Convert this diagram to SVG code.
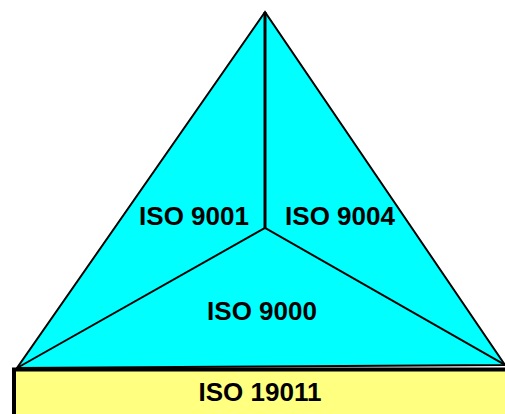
<svg xmlns="http://www.w3.org/2000/svg" width="505" height="414" viewBox="0 0 505 414">
<style>
.face{fill:#00FFFF;stroke:#000;stroke-width:2;stroke-linejoin:miter}
.line{stroke:#000;stroke-width:2;fill:none}
.vline{stroke:#000;stroke-width:3;fill:none}
.lbl{font-family:"Liberation Sans",Arial,sans-serif;font-weight:bold;font-size:26px;fill:#000;text-anchor:middle}
</style>
<rect width="505" height="414" fill="#fff"/>
<g id="triangle">
<polygon class="face" points="265,12 17,368 505,365"/>
</g>
<g id="connectors">
<line class="vline" x1="265" y1="12" x2="265" y2="228"/>
<polyline class="line" points="17,368 265,228 505,365"/>
</g>
<g id="iso9001"><text class="lbl" x="194" y="225">ISO 9001</text></g>
<g id="iso9004"><text class="lbl" x="340" y="225">ISO 9004</text></g>
<g id="iso9000"><text class="lbl" x="262" y="320">ISO 9000</text></g>
<g id="iso19011">
<rect x="14" y="369.5" width="495" height="50" fill="#FFFF80" stroke="#000" stroke-width="4"/>
<text class="lbl" x="260" y="401">ISO 19011</text>
</g>
</svg>
